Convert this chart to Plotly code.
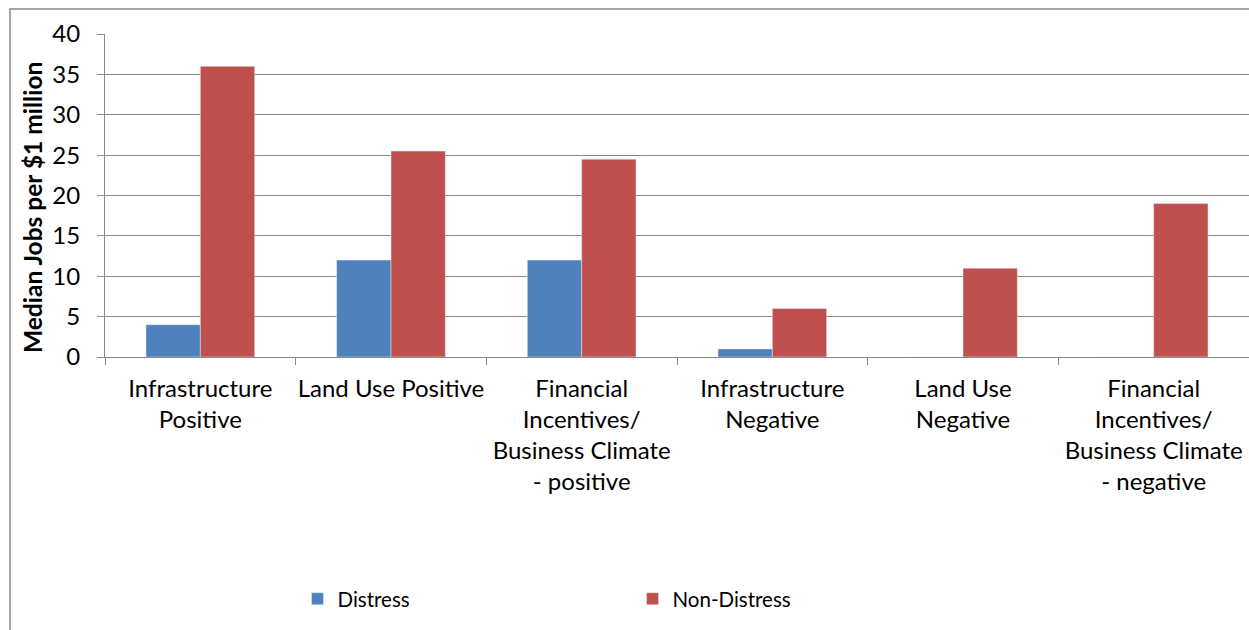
import plotly.graph_objects as go

categories = [
    "Infrastructure<br>Positive",
    "Land Use Positive",
    "Financial<br>Incentives/<br>Business Climate<br>- positive",
    "Infrastructure<br>Negative",
    "Land Use<br>Negative",
    "Financial<br>Incentives/<br>Business Climate<br>- negative",
]
distress = [4, 12, 12, 1, 0, 0]
non_distress = [36, 25.5, 24.5, 6, 11, 19]
y_ticks = [0, 5, 10, 15, 20, 25, 30, 35, 40]
y_title = "Median Jobs per $1 million"

GRID = "#888888"
FONT = "Lato"

fig = go.Figure()
fig.add_trace(go.Bar(x=categories, y=distress, name="Distress", marker_color="#4F81BD"))
fig.add_trace(go.Bar(x=categories, y=non_distress, name="Non-Distress", marker_color="#C0504D"))

fig.update_layout(
    width=1249, height=630,
    margin=dict(l=105, r=0, t=34, b=273, autoexpand=False),
    paper_bgcolor="white", plot_bgcolor="white",
    barmode="group", bargap=0.43, bargroupgap=0,
    font=dict(family=FONT, size=24, color="black"),
    showlegend=True,
    legend=dict(orientation="h", x=0.1683, xanchor="left", y=-0.749, yanchor="middle",
                entrywidth=290, entrywidthmode="pixels",
                font=dict(family=FONT, size=20.5, color="black")),
    xaxis=dict(showline=True, linecolor=GRID, linewidth=1, ticks="outside", ticklen=7,
               tickcolor=GRID, tickson="boundaries", showgrid=False, tickangle=0,
               automargin=False, ticklabelstandoff=10,
               tickfont=dict(family=FONT, size=24, color="black"), fixedrange=True),
    yaxis=dict(range=[0, 40], tickvals=y_ticks, showline=True, linecolor=GRID, linewidth=1,
               ticks="outside", ticklen=7, tickcolor=GRID, showgrid=True, gridcolor=GRID,
               gridwidth=1, zeroline=False, automargin=False, ticklabelstandoff=12,
               tickfont=dict(family=FONT, size=24, color="black")),
)

fig.add_annotation(text="<b>" + y_title + "</b>", textangle=-90, showarrow=False,
                   xref="paper", yref="paper", x=(32 - 105) / 1144, y=(357 - 208) / 323,
                   xanchor="center", yanchor="middle",
                   font=dict(family=FONT, size=24.5, color="black"))

fig.add_shape(type="rect", xref="paper", yref="paper",
              x0=(10 - 105) / 1144, x1=1.2, y0=-1.5, y1=1 + (34 - 9) / 323,
              line=dict(color=GRID, width=1.5), fillcolor="rgba(0,0,0,0)", layer="below")

fig.write_html("out.html", config={"displayModeBar": False},
               post_script="document.body.style.margin='0';document.body.style.overflow='hidden';")
